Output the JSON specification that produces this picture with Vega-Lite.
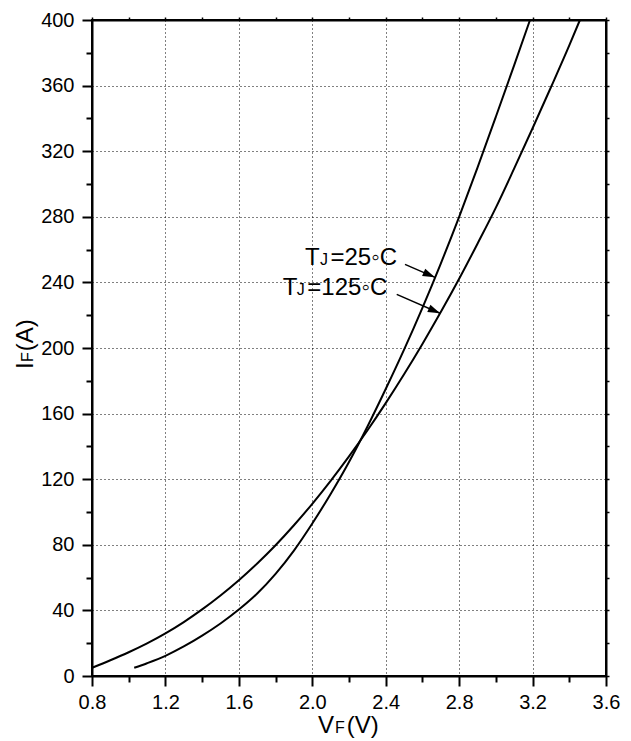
{
  "$schema": "https://vega.github.io/schema/vega-lite/v6.json",
  "width": 514,
  "height": 656,
  "autosize": "none",
  "padding": {"left": 92, "top": 20, "right": 25, "bottom": 65},
  "background": "white",
  "config": {
    "view": {"stroke": "#000", "strokeWidth": 2},
    "font": "Liberation Sans",
    "text": {"font": "Liberation Sans", "color": "#000"}
  },
  "datasets": {
    "curves": [
      {"series": "25C", "volt": 1.03, "amp": 5},
      {"series": "25C", "volt": 1.1, "amp": 7.8},
      {"series": "25C", "volt": 1.2, "amp": 12.3},
      {"series": "25C", "volt": 1.3, "amp": 18},
      {"series": "25C", "volt": 1.4, "amp": 24.6},
      {"series": "25C", "volt": 1.5, "amp": 32},
      {"series": "25C", "volt": 1.6, "amp": 40.5},
      {"series": "25C", "volt": 1.7, "amp": 50.3},
      {"series": "25C", "volt": 1.8, "amp": 62.3},
      {"series": "25C", "volt": 1.9, "amp": 76.5},
      {"series": "25C", "volt": 2.0, "amp": 93},
      {"series": "25C", "volt": 2.1, "amp": 111},
      {"series": "25C", "volt": 2.2, "amp": 130.5},
      {"series": "25C", "volt": 2.3, "amp": 152},
      {"series": "25C", "volt": 2.4, "amp": 175},
      {"series": "25C", "volt": 2.5, "amp": 199},
      {"series": "25C", "volt": 2.6, "amp": 224.5},
      {"series": "25C", "volt": 2.7, "amp": 251.5},
      {"series": "25C", "volt": 2.8, "amp": 280},
      {"series": "25C", "volt": 2.9, "amp": 310},
      {"series": "25C", "volt": 3.0, "amp": 341},
      {"series": "25C", "volt": 3.1, "amp": 372.5},
      {"series": "25C", "volt": 3.186, "amp": 400},
      {"series": "125C", "volt": 0.8, "amp": 5},
      {"series": "125C", "volt": 0.9, "amp": 9.6},
      {"series": "125C", "volt": 1.0, "amp": 14.5},
      {"series": "125C", "volt": 1.1, "amp": 19.9},
      {"series": "125C", "volt": 1.2, "amp": 26},
      {"series": "125C", "volt": 1.3, "amp": 32.9},
      {"series": "125C", "volt": 1.4, "amp": 40.6},
      {"series": "125C", "volt": 1.5, "amp": 49.1},
      {"series": "125C", "volt": 1.6, "amp": 58.4},
      {"series": "125C", "volt": 1.7, "amp": 68.6},
      {"series": "125C", "volt": 1.8, "amp": 79.7},
      {"series": "125C", "volt": 1.9, "amp": 91.9},
      {"series": "125C", "volt": 2.0, "amp": 105},
      {"series": "125C", "volt": 2.1, "amp": 119},
      {"series": "125C", "volt": 2.2, "amp": 133.9},
      {"series": "125C", "volt": 2.3, "amp": 149.7},
      {"series": "125C", "volt": 2.4, "amp": 166.4},
      {"series": "125C", "volt": 2.5, "amp": 184},
      {"series": "125C", "volt": 2.6, "amp": 202.5},
      {"series": "125C", "volt": 2.7, "amp": 221.9},
      {"series": "125C", "volt": 2.8, "amp": 242.2},
      {"series": "125C", "volt": 2.9, "amp": 263.6},
      {"series": "125C", "volt": 3.0, "amp": 285.6},
      {"series": "125C", "volt": 3.1, "amp": 309.5},
      {"series": "125C", "volt": 3.2, "amp": 334},
      {"series": "125C", "volt": 3.3, "amp": 359},
      {"series": "125C", "volt": 3.4, "amp": 384.5},
      {"series": "125C", "volt": 3.458, "amp": 400}
    ],
    "arrows": [
      {"arrow": "a25", "x": 2.505, "y": 251.0},
      {"arrow": "a25", "x": 2.668, "y": 243.1},
      {"arrow": "a125", "x": 2.46, "y": 232.7},
      {"arrow": "a125", "x": 2.696, "y": 221.2}
    ],
    "heads": [
      {"x": 2.668, "y": 243.1},
      {"x": 2.696, "y": 221.2}
    ],
    "bigText": [
      {"x": 1.96, "y": 250.6, "t": "T"},
      {"x": 2.099, "y": 250.6, "t": "=25◦C"},
      {"x": 1.839, "y": 232.3, "t": "T"},
      {"x": 1.973, "y": 232.3, "t": "=125◦C"},
      {"x": 2.031, "y": -34.6, "t": "V"},
      {"x": 2.1875, "y": -34.6, "t": "(V)"}
    ],
    "smallText": [
      {"x": 2.042, "y": 250.6, "t": "J"},
      {"x": 1.915, "y": 232.3, "t": "J"},
      {"x": 2.124, "y": -34.6, "t": "F"}
    ],
    "yBig": [
      {"x": 0.4786, "y": 187.2, "t": "I"},
      {"x": 0.4786, "y": 198.0, "t": "(A)"}
    ],
    "ySmall": [
      {"x": 0.4786, "y": 191.5, "t": "F"}
    ]
  },
  "layer": [
    {
      "data": {"name": "curves"},
      "mark": {"type": "line", "color": "#000", "strokeWidth": 2, "interpolate": "monotone"},
      "encoding": {
        "x": {
          "field": "volt", "type": "quantitative",
          "scale": {"domain": [0.8, 3.6], "nice": false, "zero": false},
          "axis": {
            "orient": "bottom",
            "title": null,
            "values": [0.8, 1.2, 1.6, 2.0, 2.4, 2.8, 3.2, 3.6],
            "format": ".1f",
            "tickSize": 10,
            "grid": true,
            "gridDash": [1, 3],
            "gridColor": "#000",
            "gridWidth": 1,
            "domainColor": "#000",
            "domainWidth": 2,
            "tickColor": "#000",
            "tickWidth": 2,
            "labelFontSize": 20,
            "labelFont": "Liberation Sans",
            "labelColor": "#000",
            "labelPadding": 6,
            "labelFlush": false,
            "labelOverlap": false
          }
        },
        "y": {
          "field": "amp", "type": "quantitative",
          "scale": {"domain": [0, 400], "nice": false},
          "axis": {
            "orient": "left",
            "title": null,
            "values": [0, 40, 80, 120, 160, 200, 240, 280, 320, 360, 400],
            "format": "d",
            "tickSize": 10,
            "grid": true,
            "gridDash": [1, 3],
            "gridColor": "#000",
            "gridWidth": 1,
            "domainColor": "#000",
            "domainWidth": 2,
            "tickColor": "#000",
            "tickWidth": 2,
            "labelFontSize": 20,
            "labelFont": "Liberation Sans",
            "labelColor": "#000",
            "labelPadding": 8,
            "labelFlush": false,
            "labelOverlap": false
          }
        },
        "detail": {"field": "series", "type": "nominal"}
      }
    },
    {
      "data": {"name": "curves"},
      "mark": {"type": "line", "opacity": 0},
      "encoding": {
        "x": {
          "field": "volt", "type": "quantitative",
          "axis": {
            "orient": "top", "title": null, "labels": false, "grid": false,
            "values": [0.8, 1.0, 1.2, 1.4, 1.6, 1.8, 2.0, 2.2, 2.4, 2.6, 2.8, 3.0, 3.2, 3.4, 3.6],
            "tickSize": 3, "tickColor": "#000", "tickWidth": 1.5,
            "domainColor": "#000", "domainWidth": 2
          }
        },
        "y": {
          "field": "amp", "type": "quantitative",
          "axis": {
            "orient": "right", "title": null, "labels": false, "grid": false,
            "values": [0, 20, 40, 60, 80, 100, 120, 140, 160, 180, 200, 220, 240, 260, 280, 300, 320, 340, 360, 380, 400],
            "tickSize": 3, "tickColor": "#000", "tickWidth": 1.5,
            "domainColor": "#000", "domainWidth": 2
          }
        },
        "detail": {"field": "series", "type": "nominal"}
      }
    },
    {
      "data": {"name": "curves"},
      "mark": {"type": "line", "opacity": 0},
      "encoding": {
        "x": {
          "field": "volt", "type": "quantitative",
          "axis": {
            "orient": "bottom", "title": null, "labels": false, "grid": false, "domain": false,
            "values": [1.0, 1.4, 1.8, 2.2, 2.6, 3.0, 3.4],
            "tickSize": 6, "tickColor": "#000", "tickWidth": 2
          }
        },
        "y": {
          "field": "amp", "type": "quantitative",
          "axis": {
            "orient": "left", "title": null, "labels": false, "grid": false, "domain": false,
            "values": [20, 60, 100, 140, 180, 220, 260, 300, 340, 380],
            "tickSize": 6, "tickColor": "#000", "tickWidth": 2
          }
        },
        "detail": {"field": "series", "type": "nominal"}
      }
    },
    {
      "data": {"name": "arrows"},
      "mark": {"type": "line", "color": "#000", "strokeWidth": 1.5},
      "encoding": {
        "x": {"field": "x", "type": "quantitative", "axis": null},
        "y": {"field": "y", "type": "quantitative", "axis": null},
        "detail": {"field": "arrow", "type": "nominal"}
      }
    },
    {
      "data": {"name": "heads"},
      "mark": {"type": "point", "shape": "M0,0L-2,-0.65L-2,0.65Z", "filled": true, "color": "#000", "opacity": 1, "size": 150, "angle": 23.5},
      "encoding": {
        "x": {"field": "x", "type": "quantitative", "axis": null},
        "y": {"field": "y", "type": "quantitative", "axis": null}
      }
    },
    {
      "data": {"name": "bigText"},
      "mark": {"type": "text", "fontSize": 24, "align": "left", "baseline": "alphabetic", "font": "Liberation Sans", "color": "#000"},
      "encoding": {
        "x": {"field": "x", "type": "quantitative", "axis": null},
        "y": {"field": "y", "type": "quantitative", "axis": null},
        "text": {"field": "t", "type": "nominal"}
      }
    },
    {
      "data": {"name": "smallText"},
      "mark": {"type": "text", "fontSize": 16, "align": "left", "baseline": "alphabetic", "font": "Liberation Sans", "color": "#000"},
      "encoding": {
        "x": {"field": "x", "type": "quantitative", "axis": null},
        "y": {"field": "y", "type": "quantitative", "axis": null},
        "text": {"field": "t", "type": "nominal"}
      }
    },
    {
      "data": {"name": "yBig"},
      "mark": {"type": "text", "fontSize": 24, "align": "left", "baseline": "alphabetic", "angle": 270, "font": "Liberation Sans", "color": "#000"},
      "encoding": {
        "x": {"field": "x", "type": "quantitative", "axis": null},
        "y": {"field": "y", "type": "quantitative", "axis": null},
        "text": {"field": "t", "type": "nominal"}
      }
    },
    {
      "data": {"name": "ySmall"},
      "mark": {"type": "text", "fontSize": 16, "align": "left", "baseline": "alphabetic", "angle": 270, "font": "Liberation Sans", "color": "#000"},
      "encoding": {
        "x": {"field": "x", "type": "quantitative", "axis": null},
        "y": {"field": "y", "type": "quantitative", "axis": null},
        "text": {"field": "t", "type": "nominal"}
      }
    }
  ],
  "resolve": {"axis": {"x": "independent", "y": "independent"}}
}
